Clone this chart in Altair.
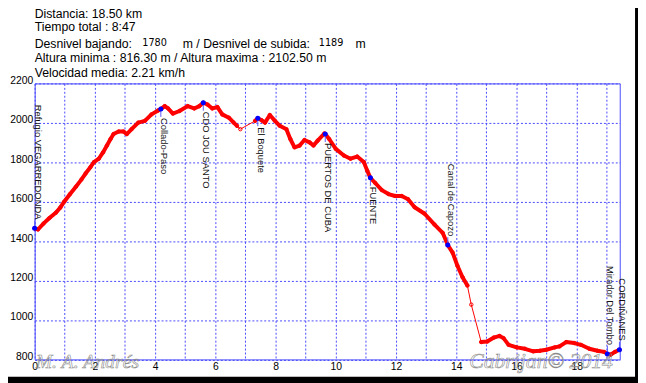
import altair as alt
import pandas as pd

# ---------------- data ----------------
dist_km = [0.00, 0.11, 0.30, 0.49, 0.71, 0.85, 0.98, 1.17, 1.37, 1.55, 1.69, 1.85, 1.97,
           2.13, 2.27, 2.40, 2.52, 2.62, 2.79, 2.95, 3.06, 3.22, 3.44, 3.66, 3.88, 4.10,
           4.19, 4.32, 4.43, 4.59, 4.81, 5.08, 5.30, 5.47, 5.60, 5.74, 5.90, 6.07, 6.23,
           6.45, 6.61, 6.72,
           6.83,
           7.32, 7.41, 7.54, 7.65, 7.81, 7.98, 8.14, 8.36, 8.49, 8.63, 8.80, 8.96, 9.13,
           9.26, 9.40, 9.62, 9.65, 9.78, 10.00, 10.27, 10.49, 10.71, 10.93, 11.04, 11.15,
           11.31, 11.53, 11.75, 11.97, 12.19, 12.40, 12.62, 12.95, 13.28, 13.55, 13.72,
           13.88, 14.04, 14.21, 14.37,
           14.50,
           14.83, 15.03, 15.25, 15.44, 15.57, 15.74, 16.01, 16.28, 16.56, 16.78, 16.99,
           17.27, 17.43, 17.65, 17.92, 18.14, 18.42, 18.69, 18.91, 19.02, 19.13, 19.27, 19.42]
elev_m = [1465, 1459, 1490, 1517, 1545, 1570, 1600, 1638, 1676, 1712, 1743, 1775, 1801,
          1818, 1850, 1885, 1918, 1943, 1956, 1956, 1943, 1968, 2001, 2010, 2043, 2063,
          2070, 2085, 2073, 2047, 2060, 2085, 2073, 2085, 2102, 2093, 2073, 2080, 2043,
          2026, 2001, 1985,
          1968,
          2010, 2023, 2013, 2001, 2040, 2010, 1985, 1968, 1918, 1876, 1885, 1913, 1901,
          1885, 1910, 1946, 1943, 1918, 1868, 1834, 1818, 1829, 1801, 1759, 1721,
          1695, 1659, 1639, 1629, 1629, 1613, 1572, 1539, 1484, 1442, 1380,
          1342, 1275, 1217, 1175,
          1078,
          888, 891, 911, 919, 908, 874, 861, 854, 841, 844, 849,
          861, 866, 888, 883, 874, 854, 844, 838, 828, 824, 838, 849]
# dense recorded stretches (0 = sparse point only)
segment = [1] * 42 + [0] + [2] * 40 + [0] + [3] * 23

wp_names = ["Refugio VEGARREDONDA", "Collado-Paso", "CDO JOU SANTO", "El Boquete",
            "PUERTOS DE CUBA", "FUENTE", "Canal de Capozo", "Mirador Del Tombo", "CORDIÑANES"]
wp_km = [0.00, 4.19, 5.60, 7.41, 9.65, 11.15, 13.72, 19.02, 19.42]
wp_elev = [1465, 2070, 2102, 2023, 1943, 1721, 1380, 828, 849]
wp_side = ["up", "down", "down", "down", "down", "down", "up", "up", "up"]

x_ticks = list(range(0, 20))
y_ticks = list(range(800, 2201, 200))

line1 = "Distancia: 18.50 km"
line2 = "Tiempo total : 8:47"
line3a = "Desnivel bajando:"
line3b = "1780"
line3c = "m / Desnivel de subida:"
line3d = "1189"
line3e = "m"
line4 = "Altura minima : 816.30 m / Altura maxima : 2102.50 m"
line5 = "Velocidad media: 2.21 km/h"
mark1 = "M. A. Andrés"
mark2 = "Cabrijan© 2014"

# ---------------- chart ----------------
prof = pd.DataFrame({"km": dist_km, "elev": elev_m, "seg": segment})
wps = pd.DataFrame({"name": wp_names, "km": wp_km, "elev": wp_elev, "side": wp_side})

BLUE = "#4848ff"
FONT = "Liberation Sans"

xscale = alt.Scale(domain=[0, 19.43], nice=False, zero=False)
yscale = alt.Scale(domain=[800, 2200], nice=False, zero=False)

xaxis = alt.Axis(values=x_ticks, format="d",
                 labelExpr="datum.value % 2 == 0 ? datum.label : ''",
                 title=None, ticks=False, domain=False, grid=True, gridColor=BLUE,
                 gridDash=[2, 2], gridWidth=1, labelFontSize=10.5, labelColor="black",
                 labelFont=FONT, labelPadding=2, labelFlush=False, labelOverlap=False)
yaxis = alt.Axis(values=y_ticks, format="d", title=None, ticks=False, domain=False,
                 grid=True, gridColor=BLUE, gridDash=[2, 2], gridWidth=1,
                 labelFontSize=10.5, labelColor="black", labelFont=FONT, labelPadding=2,
                 labelFlush=False, labelOverlap=False, labelBaseline="alphabetic")

X = alt.X("km:Q", scale=xscale, axis=xaxis)
Y = alt.Y("elev:Q", scale=yscale, axis=yaxis)

base = alt.Chart(prof)
thin = base.mark_line(color="#ff0000", strokeWidth=1).encode(x=X, y=Y)
thick = base.transform_filter("datum.seg > 0").mark_line(
    color="#ff0000", strokeWidth=4, strokeCap="round", strokeJoin="round"
).encode(x=X, y=Y, detail="seg:N")
pts = base.mark_point(shape="circle", filled=False, size=12, color="#ff0000",
                      strokeWidth=1, opacity=1).encode(x=X, y=Y)

wbase = alt.Chart(wps)
rule_down = wbase.transform_filter("datum.side == 'down'").mark_rule(
    color="#5a5aff", strokeWidth=1, y2Offset=8).encode(x=X, y=Y, y2="elev:Q")
rule_up = wbase.transform_filter("datum.side == 'up'").mark_rule(
    color="#5a5aff", strokeWidth=1, y2Offset=-8).encode(x=X, y=Y, y2="elev:Q")
dots = wbase.mark_circle(size=26, color="#0000ff", opacity=1).encode(x=X, y=Y)
lab_down = wbase.transform_filter("datum.side == 'down'").mark_text(
    angle=90, align="left", baseline="alphabetic", dx=9, fontSize=9.5, font=FONT,
    color="#111111").encode(x=X, y=Y, text="name:N")
lab_up = wbase.transform_filter("datum.side == 'up'").mark_text(
    angle=90, align="right", baseline="alphabetic", dx=-9, fontSize=9.5, font=FONT,
    color="#111111").encode(x=X, y=Y, text="name:N")


def txt(t, x, y, size=12.4, font=FONT, color="black", **kw):
    return alt.Chart(pd.DataFrame({"t": [t]})).mark_text(
        align="left", baseline="alphabetic", fontSize=size, font=font, color=color, **kw
    ).encode(x=alt.value(x), y=alt.value(y), text="t:N")


header = [
    txt(line1, 0, -66.3),
    txt(line2, 0, -52.7),
    txt(line3a, 0, -36.3),
    txt(line3b, 109, -38, size=9.8, font="DejaVu Sans"),
    txt(line3c, 150, -36.3),
    txt(line3d, 287.7, -38, size=9.8, font="DejaVu Sans"),
    txt(line3e, 325, -36.3),
    txt(line4, 0, -21.3),
    txt(line5, 0, -6),
]

wm = [
    alt.Chart(pd.DataFrame({"t": [mark1]})).mark_text(
        align="left", baseline="alphabetic", fontSize=20, font="Liberation Serif",
        fontStyle="italic", fillOpacity=0, stroke="#8a8a8a", strokeWidth=0.6
    ).encode(x=alt.value(1), y=alt.value(288), text="t:N"),
    alt.Chart(pd.DataFrame({"t": [mark2]})).mark_text(
        align="left", baseline="alphabetic", fontSize=22, font="Liberation Serif",
        fontStyle="italic", fillOpacity=0, stroke="#8a8a8a", strokeWidth=0.6
    ).encode(x=alt.value(440), y=alt.value(288), text="t:N"),
]

one = pd.DataFrame({"a": [0]})
frame = [
    alt.Chart(one).mark_rect(color="black").encode(
        x=alt.value(608), x2=alt.value(612), y=alt.value(-80), y2=alt.value(305)),
    alt.Chart(one).mark_rect(color="black").encode(
        x=alt.value(-30), x2=alt.value(612), y=alt.value(297), y2=alt.value(305)),
]

chart = alt.layer(thin, thick, pts, rule_down, rule_up, dots, lab_down, lab_up,
                  *header, *wm, *frame).properties(
    width=592.5, height=279.5,
    padding={"left": 27, "top": 74, "right": 18.5, "bottom": 21.5},
    autosize=alt.AutoSizeParams(type="none"),
    background="white",
).configure_view(stroke=BLUE, strokeWidth=1)

chart.save("out.html", embed_options={"renderer": "svg", "actions": False})
